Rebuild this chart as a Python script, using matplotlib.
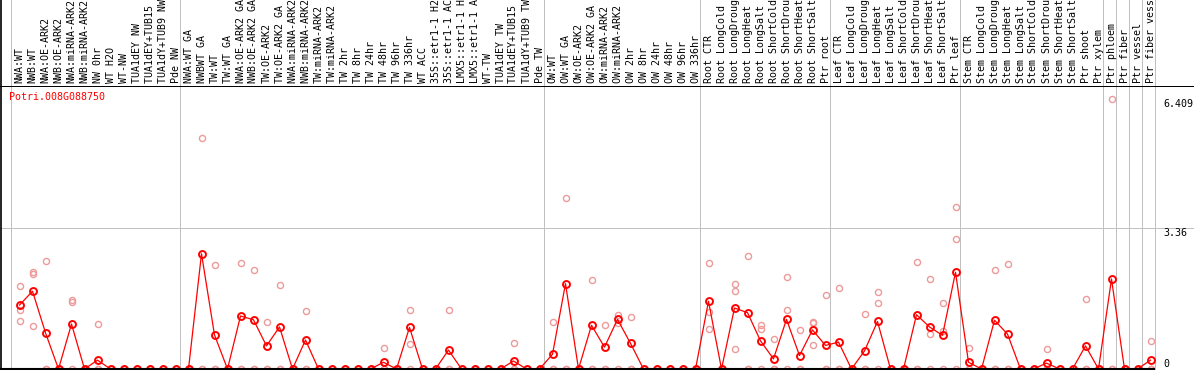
import matplotlib
matplotlib.use("Agg")
import matplotlib.pyplot as plt
from matplotlib.lines import Line2D
import numpy as np

gene = "Potri.008G088750"

samples = [
    "NWA:WT", "NWB:WT", "NWA:OE-ARK2", "NWB:OE-ARK2", "NWA:miRNA-ARK2",
    "NWB:miRNA-ARK2", "NW 0hr", "WT H2O", "WT-NW", "TUA1dEY NW",
    "TUA1dEY+TUB15 NW", "TUA1dY+TUB9 NW", "Pde NW",
    "NWA:WT GA", "NWBWT GA", "TW:WT", "TW:WT GA", "NWA:OE-ARK2 GA",
    "NWB:OE-ARK2 GA", "TW:OE-ARK2", "TW:OE-ARK2 GA", "NWA:miRNA-ARK2 GA",
    "NWB:miRNA-ARK2 GA", "TW:miRNA-ARK2", "TW:miRNA-ARK2 GA", "TW 2hr",
    "TW 8hr", "TW 24hr", "TW 48hr", "TW 96hr", "TW 336hr", "WT ACC",
    "35S::etr1-1 H2O", "35S::etr1-1 ACC", "LMX5::etr1-1 H2O",
    "LMX5::etr1-1 ACC", "WT-TW", "TUA1dEY TW", "TUA1dEY+TUB15 TW",
    "TUA1dY+TUB9 TW", "Pde TW",
    "OW:WT", "OW:WT GA", "OW:OE-ARK2", "OW:OE-ARK2 GA", "OW:miRNA-ARK2",
    "OW:miRNA-ARK2 GA", "OW 2hr", "OW 8hr", "OW 24hr", "OW 48hr", "OW 96hr",
    "OW 336hr",
    "Root CTR", "Root LongCold", "Root LongDrought", "Root LongHeat",
    "Root LongSalt", "Root ShortCold", "Root ShortDrought", "Root ShortHeat",
    "Root ShortSalt", "Ptr root",
    "Leaf CTR", "Leaf LongCold", "Leaf LongDrought", "Leaf LongHeat",
    "Leaf LongSalt", "Leaf ShortCold", "Leaf ShortDrought", "Leaf ShortHeat",
    "Leaf ShortSalt", "Ptr leaf",
    "Stem CTR", "Stem LongCold", "Stem LongDrought", "Stem LongHeat",
    "Stem LongSalt", "Stem ShortCold", "Stem ShortDrought", "Stem ShortHeat",
    "Stem ShortSalt", "Ptr shoot", "Ptr xylem",
    "Ptr phloem", "Ptr fiber", "Ptr vessel", "Ptr fiber vessel",
]

# first sample index of each block (last entry closes the chart)
group_starts = [0, 13, 41, 53, 63, 73, 84, 85, 86, 87, 88]

means = [
    1.52, 1.85, 0.86, 0, 1.07, 0, 0.21, 0, 0, 0, 0, 0, 0,
    0, 2.74, 0.81, 0, 1.26, 1.17, 0.55, 1.00, 0, 0.69, 0, 0, 0, 0, 0,
    0.16, 0, 0.99, 0, 0, 0.45, 0, 0, 0, 0, 0.19, 0, 0,
    0.35, 2.03, 0, 1.04, 0.52, 1.18, 0.61, 0, 0, 0, 0, 0,
    1.61, 0, 1.45, 1.34, 0.67, 0.24, 1.18, 0.32, 0.93, 0.56,
    0.64, 0, 0.43, 1.13, 0, 0, 1.29, 1.00, 0.80, 2.30,
    0.16, 0, 1.16, 0.83, 0, 0, 0.14, 0, 0, 0.55, 0,
    2.14, 0, 0, 0.21,
]

# replicate values (non-zero ones; the rest of the 3 reps are 0)
replicates = {
    1: [1.98, 1.41, 1.14], 2: [2.31, 2.26, 1.02], 3: [2.57], 5: [1.64, 1.60],
    7: [1.07], 15: [5.50], 16: [2.48], 18: [2.53], 19: [2.35], 20: [1.12],
    21: [2.00], 23: [1.38], 29: [0.49], 31: [1.41, 0.59], 34: [1.41],
    39: [0.62], 42: [1.12], 43: [4.07], 45: [2.11], 46: [1.04],
    47: [1.28, 1.10], 48: [1.23], 54: [2.53, 1.36, 0.95],
    56: [2.03, 1.86, 0.48], 57: [2.69], 58: [1.05, 0.95], 59: [0.71],
    60: [2.19, 1.41], 61: [0.93], 62: [1.11, 1.09, 0.56], 63: [1.76],
    64: [1.93], 66: [1.31], 67: [1.83, 1.56], 70: [2.54], 71: [2.14, 0.83],
    72: [1.57, 0.91], 73: [3.85, 3.09], 74: [0.49], 76: [2.35], 77: [2.49],
    80: [0.48], 83: [1.66], 85: [6.409], 88: [0.67],
}

RED = "#ff0000"
PINK = "#ee9a9a"
GRAY = "#c0c0c0"
MONO = "DejaVu Sans Mono"

W, H = 1194, 370
STEP = 13  # pixels per sample
fig = plt.figure(figsize=(W / 100, H / 100), dpi=100)
# plot box: bottom at pixel row 369, top at row 86
ax = fig.add_axes([0, 1 / H, 1, 283 / H])
for s in ax.spines.values():
    s.set_visible(False)
ax.set_xticks([])
ax.set_yticks([])

n = len(samples)
x = np.arange(n)
ax.set_xlim(-1.5, W / STEP - 1.5)

rep_x, rep_y = [], []
for i in range(n):
    vals = replicates.get(i + 1, [])
    vals = vals + [0] * (3 - len(vals))
    rep_x += [i] * len(vals)
    rep_y += vals

vmax = max(rep_y)
ytop = vmax * 1.05
ax.set_ylim(0, ytop)

# group separators, run across the whole picture height
top_frac = (H - 1) / 283
sep = 8.5 / STEP
for g in group_starts:
    ax.axvline(g - sep, 0, top_frac, color=GRAY, lw=0.5, clip_on=False,
               antialiased=False, zorder=1)
ax.axhline(ytop / 2, color=GRAY, lw=0.5, antialiased=False, zorder=1)
ax.axhline(ytop, color="black", lw=0.5, antialiased=False, zorder=1)
ax.plot([-1.5, group_starts[-1] - sep], [0, 0], color="black", lw=1.5,
        clip_on=False, solid_capstyle="butt", zorder=5)
fig.add_artist(Line2D([0.6 / W, 0.6 / W], [0, 1], color="black", lw=1.2))

ax.plot(rep_x, rep_y, ls="none", marker="o", ms=4.4, mfc="none", mec=PINK,
        mew=1.0, clip_on=False, zorder=2)
ax.plot(x, means, color=RED, lw=0.9, marker="o", ms=5.0, mfc="none",
        mec=RED, mew=1.4, clip_on=False, zorder=3)

for i, name in enumerate(samples):
    ax.annotate(name, (i, 1), xycoords=("data", "axes fraction"),
                xytext=(0, 3), textcoords="offset pixels", rotation=90,
                ha="center", va="bottom", family=MONO, size=7.2,
                annotation_clip=False)

ytx = 1163 / W
ax.text(ytx, vmax, "%.3f" % vmax, transform=ax.get_yaxis_transform(),
        va="top", ha="left", family=MONO, size=7.2)
ax.text(ytx, ytop / 2, "%.2f" % (ytop / 2), transform=ax.get_yaxis_transform(),
        va="top", ha="left", family=MONO, size=7.2)
ax.text(ytx, 0, "0", transform=ax.get_yaxis_transform(),
        va="bottom", ha="left", family=MONO, size=7.2)

fig.text(9 / W, 1 - 97 / H, gene, color=RED, family=MONO, size=7.2,
         va="center", ha="left")

fig.savefig("out.png", dpi=100)
